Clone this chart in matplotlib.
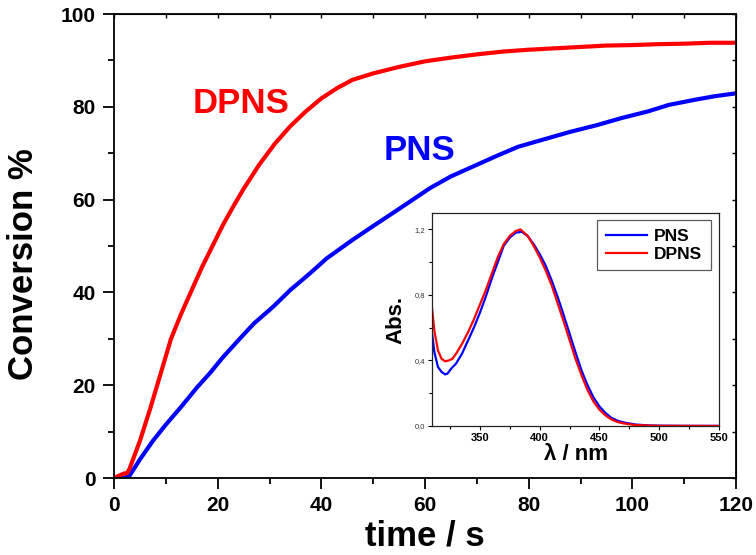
import numpy as np
import matplotlib
matplotlib.use("Agg")
from matplotlib import pyplot as plt
from matplotlib.ticker import MultipleLocator, FuncFormatter

plt.rcParams['font.family'] = ['Liberation Sans', 'DejaVu Sans']

# conversion kinetics (time / s, conversion %)
T_DPNS = [0, 1, 2, 2.5, 3, 5, 7, 9, 11, 13, 15, 17, 19, 21, 23, 25, 28, 31, 34, 37,
          40, 43, 46, 50, 55, 60, 65, 70, 75, 80, 85, 90, 95, 100, 105, 110, 115, 120]
C_DPNS = [0, 0.5, 1, 1, 2, 8, 15, 22.5, 30, 35.5, 40.5, 45.5, 50, 54.5, 58.5, 62.3, 67.5, 72, 75.8, 79,
          81.8, 84, 85.8, 87.2, 88.6, 89.8, 90.6, 91.3, 91.9, 92.3, 92.6, 92.9, 93.2, 93.3, 93.5, 93.6, 93.8, 93.8]

T_PNS = [0, 2, 3, 5, 7.5, 10, 13, 16, 18.5, 21, 24, 27, 30.7, 34, 37.8, 41, 46, 50, 55, 61,
         65, 69, 74, 78, 83, 88, 93, 98, 103, 107, 112, 116, 120]
C_PNS = [0, 0, 0.5, 4, 8, 11.5, 15.4, 19.5, 22.6, 26, 29.7, 33.3, 36.9, 40.5, 44.1, 47.3, 51.3, 54.3, 58, 62.5,
         65, 67, 69.5, 71.4, 73, 74.6, 76, 77.6, 79, 80.4, 81.5, 82.3, 82.9]

# inset absorption spectra (wavelength / nm, absorbance)
WL_PNS = [310, 312, 315, 318, 321, 323, 326, 330, 335, 340, 345, 350, 355, 360, 365, 370, 375, 380, 385,
          390, 395, 400, 405, 410, 415, 420, 425, 430, 435, 440, 445, 450, 455, 460, 465, 470, 480, 490, 500, 520, 550]
A_PNS = [0.57, 0.45, 0.36, 0.33, 0.315, 0.32, 0.35, 0.38, 0.44, 0.52, 0.60, 0.69, 0.79, 0.90, 1.00, 1.10, 1.15, 1.18, 1.185,
         1.16, 1.11, 1.05, 0.98, 0.89, 0.79, 0.68, 0.565, 0.45, 0.34, 0.25, 0.175, 0.12, 0.08, 0.05, 0.033, 0.022, 0.009, 0.004, 0.002, 0.001, 0.001]

WL_DPNS = [310, 312, 315, 318, 321, 324, 327, 330, 335, 340, 345, 350, 355, 360, 365, 370, 375, 380, 384,
           390, 395, 400, 405, 410, 415, 420, 425, 430, 435, 440, 445, 450, 455, 460, 465, 470, 480, 490, 500, 550]
A_DPNS = [0.72, 0.58, 0.46, 0.41, 0.395, 0.40, 0.41, 0.44, 0.50, 0.57, 0.65, 0.74, 0.83, 0.93, 1.03, 1.11, 1.16, 1.19, 1.20,
          1.16, 1.10, 1.03, 0.95, 0.86, 0.75, 0.64, 0.525, 0.41, 0.31, 0.22, 0.15, 0.10, 0.065, 0.04, 0.025, 0.016, 0.006, 0.003, 0.001, 0.0]

RED = '#ff0000'
BLUE = '#0000ff'

fig = plt.figure(figsize=(7.56, 5.55), dpi=100)
ax = fig.add_axes([114/756, 77/555, 622/756, 464/555])

ax.plot(T_PNS, C_PNS, color=BLUE, lw=3.0)
ax.plot(T_DPNS, C_DPNS, color=RED, lw=3.0)

ax.set_xlim(0, 120)
ax.set_ylim(0, 100)
ax.xaxis.set_major_locator(MultipleLocator(20))
ax.xaxis.set_minor_locator(MultipleLocator(10))
ax.yaxis.set_major_locator(MultipleLocator(20))
ax.yaxis.set_minor_locator(MultipleLocator(10))
ax.tick_params(which='major', direction='out', length=8, width=1.3, labelsize=15, pad=5)
ax.tick_params(which='minor', direction='out', length=4.5, width=1.3)
for lab in ax.get_xticklabels() + ax.get_yticklabels():
    lab.set_fontweight('bold')
for sp in ax.spines.values():
    sp.set_linewidth(1.3)

# mirrored inward ticks on top/right
top = ax.secondary_xaxis('top')
top.xaxis.set_major_locator(MultipleLocator(10))
top.tick_params(direction='in', length=3, width=1.0, labeltop=False)
right = ax.secondary_yaxis('right')
right.yaxis.set_major_locator(MultipleLocator(10))
right.tick_params(direction='in', length=3, width=1.0, labelright=False)

ax.set_xlabel('time / s', fontsize=25, fontweight='bold', labelpad=3)
ax.set_ylabel('Conversion %', fontsize=25, fontweight='bold')
ax.yaxis.set_label_coords(-0.119, 0.46)

ax.text(24.5, 78.6, 'DPNS', color=RED, fontsize=25, fontweight='bold', ha='center', va='baseline')
ax.text(59.0, 68.5, 'PNS', color=BLUE, fontsize=25, fontweight='bold', ha='center', va='baseline')

# inset
ins = fig.add_axes([432/756, 129/555, 287/756, 213/555])
ins.plot(WL_PNS, A_PNS, color=BLUE, lw=1.6, label='PNS')
ins.plot(WL_DPNS, A_DPNS, color=RED, lw=1.6, label='DPNS')
ins.set_xlim(310, 550)
ins.set_ylim(0, 1.3)
ins.xaxis.set_major_locator(MultipleLocator(50))
ins.xaxis.set_minor_locator(MultipleLocator(25))
ins.yaxis.set_major_locator(MultipleLocator(0.4))
ins.yaxis.set_minor_locator(MultipleLocator(0.2))
ins.yaxis.set_major_formatter(FuncFormatter(lambda v, p: ('%.1f' % v).replace('.', ',')))
ins.tick_params(which='major', direction='out', length=3, width=0.8, pad=2)
ins.tick_params(which='minor', direction='out', length=2, width=0.8)
ins.tick_params(axis='x', labelsize=8)
ins.tick_params(axis='y', labelsize=5.5, labelcolor='#333333')
for lab in ins.get_xticklabels():
    lab.set_fontweight('bold')
for sp in ins.spines.values():
    sp.set_linewidth(0.9)
    sp.set_color('#222222')
ins.set_xlabel('λ / nm', fontsize=16, fontweight='bold', labelpad=1)
ins.set_ylabel('Abs.', fontsize=16, fontweight='bold', labelpad=6)

leg = ins.legend(loc='upper right', bbox_to_anchor=(1 - 8/287, 1 - 7/213), borderaxespad=0,
                 fancybox=False, edgecolor='#333333', handlelength=2.4,
                 prop={'weight': 'bold', 'size': 12.5}, borderpad=0.5, labelspacing=0.15,
                 handletextpad=0.4)
leg.get_frame().set_linewidth(0.9)

fig.savefig('out.png', dpi=100)
plt.close(fig)
